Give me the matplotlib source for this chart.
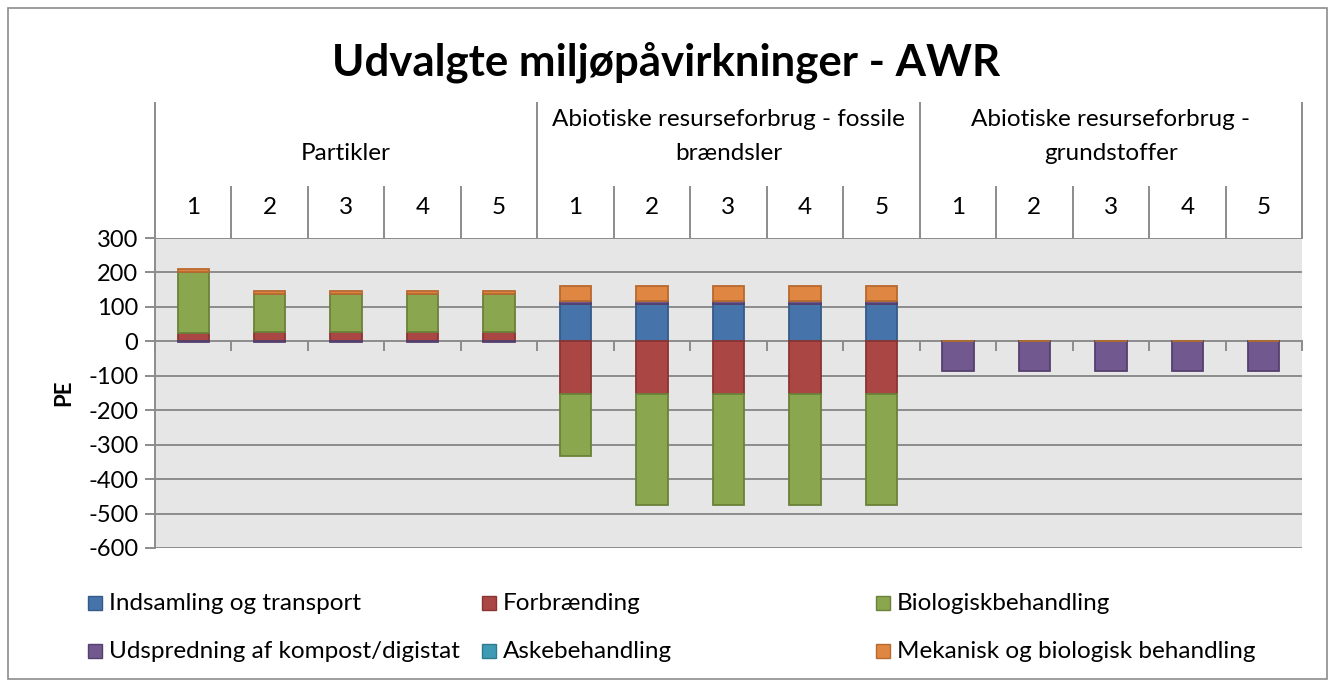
import numpy as np
import matplotlib.pyplot as plt
from matplotlib.patches import Rectangle

plt.rcParams['font.family'] = ['Lato', 'DejaVu Sans']

groups = ["Partikler",
          "Abiotiske resurseforbrug - fossile\nbrændsler",
          "Abiotiske resurseforbrug -\ngrundstoffer"]
scenarios = ["1", "2", "3", "4", "5"]

series = ["Indsamling og transport", "Forbrænding", "Biologiskbehandling",
          "Udspredning af kompost/digistat", "Askebehandling",
          "Mekanisk og biologisk behandling"]
colors = ["#4674AA", "#AA4644", "#8AA64E", "#71588F", "#3F9AB3", "#DE8642"]
edges = ["#355A88", "#8A3432", "#6A8239", "#54406E", "#2E7A8E", "#B8692E"]

# values per series, 15 categories (3 groups x 5 scenarios)
indsamling = [0, 0, 0, 0, 0, 108, 108, 108, 108, 108, 0, 0, 0, 0, 0]
forbraending = [25, 26, 26, 26, 26, -154, -154, -154, -154, -154, 0, 0, 0, 0, 0]
biologisk = [176, 111, 111, 111, 111, -180, -320, -320, -320, -320, 0, 0, 0, 0, 0]
udspredning = [-3, -3, -3, -3, -3, 8, 8, 8, 8, 8, -87, -87, -87, -87, -87]
aske = [0, 0, 0, 0, 0, 0, 0, 0, 0, 0, 0, 0, 0, 0, 0]
mekanisk = [8, 9, 9, 9, 9, 44, 44, 44, 44, 44, 0.5, 0.5, 0.5, 0.5, 0.5]

data = [indsamling, forbraending, biologisk, udspredning, aske, mekanisk]

W, H = 1332, 681
fig = plt.figure(figsize=(W / 100, H / 100), dpi=100)

def fx(px):
    return px / W

def fy(py):
    return 1 - py / H

# outer frame
fig.patches.append(Rectangle((fx(8), fy(679)), fx(1327) - fx(8), fy(8) - fy(679),
                             transform=fig.transFigure, fill=False,
                             edgecolor="#8C8C8C", lw=1.2))

L, R, T, B = 155, 1302, 238, 548
ax = fig.add_axes([fx(L), fy(B), fx(R) - fx(L), fy(T) - fy(B)])
ax.set_facecolor("#E6E6E6")
n = len(indsamling)
x = np.arange(n)
ax.set_xlim(-0.5, n - 0.5)
ax.set_ylim(-600, 300)

grid_c = "#8C8C8C"
for v in range(-600, 301, 100):
    ax.axhline(v, color=grid_c, lw=1.4, zorder=1)

pos = np.zeros(n)
neg = np.zeros(n)
for vals, c, ec in zip(data, colors, edges):
    vals = np.array(vals, dtype=float)
    bottom = np.where(vals >= 0, pos, neg)
    ax.bar(x, vals, 0.41, bottom=bottom, color=c, edgecolor=ec, lw=1.3, zorder=3)
    pos = pos + np.clip(vals, 0, None)
    neg = neg + np.clip(vals, None, 0)

# ticks on zero line
for b in np.arange(-0.5, n, 1.0):
    ax.plot([b, b], [0, -24], color=grid_c, lw=1.4, zorder=2, clip_on=False)

fs = 17.5
ax.set_xticks([])
ax.set_yticks(range(-600, 301, 100))
ax.set_yticklabels([str(v) for v in range(-600, 301, 100)], fontsize=17)
ax.tick_params(axis='y', length=7, color=grid_c, width=1.4, pad=5)
for s in ["top", "right", "bottom"]:
    ax.spines[s].set_visible(False)
ax.spines["left"].set_color(grid_c)
ax.spines["left"].set_linewidth(1.4)
ax.set_ylabel("PE", fontsize=16, fontweight="bold", labelpad=10)

# header with category labels
hx = ax.get_xaxis_transform()

def hy(py):
    return 1 + (T - py) / (B - T)

for b in np.arange(-0.5, n, 1.0):
    gsep = (b + 0.5) % 5 == 0
    ax.plot([b, b], [1, hy(103) if gsep else hy(187)], transform=hx, color=grid_c,
            lw=1.4, clip_on=False)
for i in range(n):
    ax.text(x[i], hy(208), scenarios[i % 5], transform=hx,
            ha="center", va="center", fontsize=fs)
for g, name in enumerate(groups):
    lines = name.split("\n")
    for k, line in enumerate(reversed(lines)):
        ax.text(g * 5 + 2, hy(153 - 33 * k), line, transform=hx,
                ha="center", va="center", fontsize=fs)

fig.text(0.5, fy(62), "Udvalgte miljøpåvirkninger - AWR", ha="center", va="center",
         fontsize=31.5, fontweight="bold")

# legend
col_x = [88, 482, 876]
row_y = [603, 651]
for k, (name, c, ec) in enumerate(zip(series, colors, edges)):
    px = col_x[k % 3]
    py = row_y[k // 3]
    fig.patches.append(Rectangle((fx(px), fy(py + 7)), fx(14), 14 / H,
                                 transform=fig.transFigure, facecolor=c,
                                 edgecolor=ec, lw=1.0))
    fig.text(fx(px + 21), fy(py), name, ha="left", va="center", fontsize=fs)

fig.savefig("out.png", dpi=100)
